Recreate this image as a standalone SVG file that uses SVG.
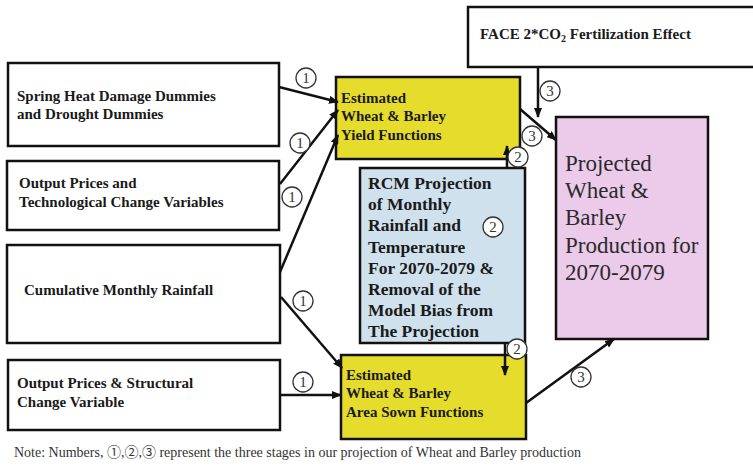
<svg xmlns="http://www.w3.org/2000/svg" width="753" height="466" viewBox="0 0 753 466">
<style>
.box{stroke:#111;stroke-width:2.5}
.w{fill:#fff}
.y{fill:#e6dc2c}
.b{fill:#cfe1ec}
.p{fill:#ebcaea}
.t{font-family:"Liberation Serif",serif;font-weight:bold;font-size:15px;fill:#1a1a1a}
.r{font-family:"Liberation Serif",serif;font-weight:bold;font-size:17.5px;fill:#1a1a1a}
.pk{font-family:"Liberation Serif",serif;font-size:23px;fill:#2a2a2a}
.c{fill:#fff;stroke:#333;stroke-width:1.3}
.cn{font-family:"Liberation Serif",serif;font-size:15px;fill:#333;text-anchor:middle}
.ln{stroke:#111;stroke-width:2.5;fill:none;marker-end:url(#ah)}
.note{font-family:"Liberation Serif","Noto Sans CJK JP",serif;font-size:14px;fill:#333}
</style>
<defs>
<marker id="ah" markerWidth="10" markerHeight="8" refX="9" refY="4" orient="auto" markerUnits="userSpaceOnUse">
<path d="M0,0 L10,4 L0,8 z" fill="#111"/>
</marker>
</defs>
<rect width="753" height="466" fill="#fff"/>

<g id="spring"><rect class="box w" x="8" y="63" width="271" height="83"/>
<text class="t" x="17" y="101">Spring Heat Damage Dummies</text>
<text class="t" x="17" y="119">and Drought Dummies</text></g>

<g id="tech"><rect class="box w" x="7" y="161" width="272" height="69"/>
<text class="t" x="19" y="188">Output Prices and</text>
<text class="t" x="19" y="207">Technological Change Variables</text></g>

<g id="rain"><rect class="box w" x="7" y="245" width="273" height="98"/>
<text class="t" x="24" y="295">Cumulative Monthly Rainfall</text></g>

<g id="struct"><rect class="box w" x="8" y="360" width="272" height="70"/>
<text class="t" x="17" y="388">Output Prices &amp; Structural</text>
<text class="t" x="17" y="407">Change Variable</text></g>

<g id="face"><rect class="box w" x="468" y="7" width="290" height="60"/>
<text class="t" x="480" y="39">FACE 2*CO<tspan font-size="10" dy="3">2</tspan><tspan dy="-3"> Fertilization Effect</tspan></text></g>

<g id="yield"><rect class="box y" x="336" y="77" width="184" height="82"/>
<text class="t" x="341" y="103">Estimated</text>
<text class="t" x="341" y="121">Wheat &amp; Barley</text>
<text class="t" x="341" y="140">Yield Functions</text></g>

<g id="rcm"><rect class="box b" x="360" y="168" width="165" height="175"/>
<text class="r" x="368" y="189">RCM Projection</text>
<text class="r" x="368" y="210">of Monthly</text>
<text class="r" x="368" y="231">Rainfall and</text>
<text class="r" x="368" y="253">Temperature</text>
<text class="r" x="368" y="274">For 2070-2079 &amp;</text>
<text class="r" x="368" y="295">Removal of the</text>
<text class="r" x="368" y="316">Model Bias from</text>
<text class="r" x="368" y="337">The Projection</text></g>

<g id="area"><rect class="box y" x="341" y="355" width="185" height="84"/>
<text class="t" x="346" y="380">Estimated</text>
<text class="t" x="346" y="398">Wheat &amp; Barley</text>
<text class="t" x="346" y="417">Area Sown Functions</text></g>

<g id="projected"><rect class="box p" x="556" y="117" width="152" height="222"/>
<text class="pk" x="565" y="171">Projected</text>
<text class="pk" x="565" y="198">Wheat &amp;</text>
<text class="pk" x="565" y="225">Barley</text>
<text class="pk" x="565" y="253">Production for</text>
<text class="pk" x="565" y="280">2070-2079</text></g>

<g id="connectors">
<line class="ln" x1="279" y1="87" x2="338" y2="102"/>
<line class="ln" x1="280" y1="184" x2="338" y2="110"/>
<line class="ln" x1="280" y1="272" x2="338" y2="135"/>
<line class="ln" x1="281" y1="297" x2="342" y2="368"/>
<line class="ln" x1="280" y1="395" x2="341" y2="395"/>
<line class="ln" x1="507" y1="168" x2="507" y2="146"/>
<line class="ln" x1="505" y1="343" x2="505" y2="375"/>
<line class="ln" x1="538" y1="67" x2="538" y2="117"/>
<line class="ln" x1="520" y1="109" x2="556" y2="140"/>
<line class="ln" x1="526" y1="403" x2="614" y2="339"/>
</g>

<g id="labels">
<circle class="c" cx="306" cy="78" r="10"/><text class="cn" x="306" y="83">1</text>
<circle class="c" cx="300" cy="143" r="10"/><text class="cn" x="300" y="148">1</text>
<circle class="c" cx="292" cy="197" r="10"/><text class="cn" x="292" y="202">1</text>
<circle class="c" cx="303" cy="301" r="10"/><text class="cn" x="303" y="306">1</text>
<circle class="c" cx="303" cy="382" r="10"/><text class="cn" x="303" y="387">1</text>
<circle class="c" cx="518" cy="157" r="10"/><text class="cn" x="518" y="162">2</text>
<circle class="c" cx="493" cy="227" r="10"/><text class="cn" x="493" y="232">2</text>
<circle class="c" cx="517" cy="349" r="10"/><text class="cn" x="517" y="354">2</text>
<circle class="c" cx="550" cy="91" r="10"/><text class="cn" x="550" y="96">3</text>
<circle class="c" cx="532" cy="136" r="10"/><text class="cn" x="532" y="141">3</text>
<circle class="c" cx="581" cy="377" r="10"/><text class="cn" x="581" y="382">3</text>
</g>

<text class="note" x="14" y="457">Note: Numbers, ①,②,③ represent the three stages in our projection of Wheat and Barley production</text>
</svg>
